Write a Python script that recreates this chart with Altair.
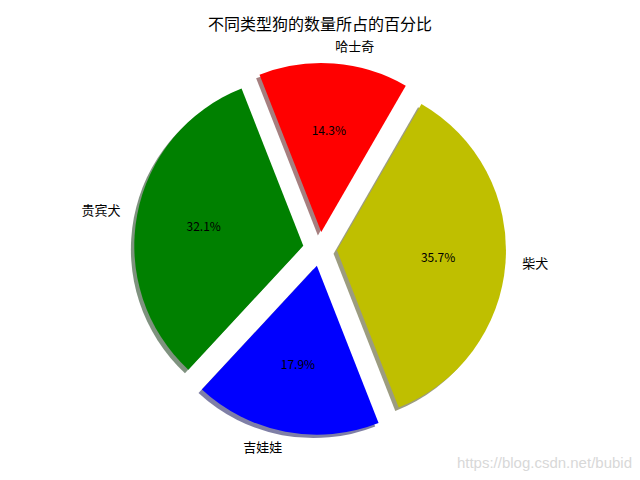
import altair as alt
import pandas as pd

# ---- data ----
dogs = ["哈士奇", "贵宾犬", "吉娃娃", "柴犬"]
counts = [4, 9, 5, 10]
colors = ["#ff0000", "#008000", "#0000ff", "#bfbf00"]
shadow_colors = ["#4d0000", "#002600", "#00004d", "#393900"]
title_text = "不同类型狗的数量所占的百分比"
watermark = ["https://blog.csdn.net/bubid"]

# ---- layout (pixels in chart coords) ----
START = 60      # matplotlib-style start angle (deg, counter-clockwise from +x)
CX, CY = 312, 211
R = 169
E = 17          # explode offset
SH = 3.4        # shadow offset
FONT = "Noto Sans CJK SC"

df = pd.DataFrame({"dog": dogs, "count": counts, "idx": list(range(len(dogs)))})

base = (
    alt.Chart(df)
    .transform_joinaggregate(total="sum(count)")
    .transform_window(cum="sum(count)", sort=[alt.SortField("idx")], frame=[None, 0])
    .transform_calculate(
        a1=f"{START} + 360*(datum.cum - datum.count)/datum.total",
        a2=f"{START} + 360*datum.cum/datum.total",
    )
    .transform_calculate(
        t1="(90 - datum.a2)*PI/180",
        t2="(90 - datum.a1)*PI/180",
        mid="(datum.a1 + datum.a2)/2*PI/180",
    )
    .transform_calculate(
        cx=f"{CX} + {E}*cos(datum.mid)",
        cy=f"{CY} - {E}*sin(datum.mid)",
        pct="format(datum.count/datum.total*100, '.1f') + '%'",
        side="cos(datum.mid) >= 0 ? 'right' : 'left'",
    )
    .transform_calculate(
        sx=f"datum.cx - {SH}",
        sy=f"datum.cy + {SH}",
        lx=f"datum.cx + {1.1 * R}*cos(datum.mid)",
        ly=f"datum.cy - {1.1 * R}*sin(datum.mid)",
        px=f"datum.cx + {0.6 * R}*cos(datum.mid)",
        py=f"datum.cy - {0.6 * R}*sin(datum.mid)",
    )
)

shadow = base.mark_arc(radius=R, opacity=0.5).encode(
    x=alt.X("sx:Q", scale=None, axis=None),
    y=alt.Y("sy:Q", scale=None, axis=None),
    theta=alt.Theta("t1:Q", scale=None),
    theta2="t2:Q",
    color=alt.Color("dog:N", scale=alt.Scale(domain=dogs, range=shadow_colors), legend=None),
)

wedges = base.mark_arc(radius=R).encode(
    x=alt.X("cx:Q", scale=None, axis=None),
    y=alt.Y("cy:Q", scale=None, axis=None),
    theta=alt.Theta("t1:Q", scale=None),
    theta2="t2:Q",
    color=alt.Color("dog:N", scale=alt.Scale(domain=dogs, range=colors), legend=None),
)

labels_right = base.transform_filter("datum.side == 'right'").mark_text(
    align="left", baseline="middle", font=FONT, fontSize=13, color="black"
).encode(
    x=alt.X("lx:Q", scale=None, axis=None),
    y=alt.Y("ly:Q", scale=None, axis=None),
    text="dog:N",
)

labels_left = base.transform_filter("datum.side == 'left'").mark_text(
    align="right", baseline="middle", font=FONT, fontSize=13, color="black"
).encode(
    x=alt.X("lx:Q", scale=None, axis=None),
    y=alt.Y("ly:Q", scale=None, axis=None),
    text="dog:N",
)

pcts = base.mark_text(
    align="center", baseline="middle", font=FONT, fontSize=12, color="black"
).encode(
    x=alt.X("px:Q", scale=None, axis=None),
    y=alt.Y("py:Q", scale=None, axis=None),
    text="pct:N",
)

wm = alt.Chart(pd.DataFrame({"t": watermark})).mark_text(
    align="right", baseline="middle", font="Liberation Sans", fontSize=15, color="#d8d8d8"
).encode(
    x=alt.value(624),
    y=alt.value(425),
    text="t:N",
)

chart = (
    alt.layer(shadow, wedges, labels_right, labels_left, pcts, wm)
    .resolve_scale(color="independent")
    .properties(
        width=624,
        height=434,
        title=alt.Title(title_text, font=FONT, fontSize=16, fontWeight="normal",
                        anchor="middle", offset=5, color="black"),
        autosize=alt.AutoSizeParams(type="none"),
        padding={"left": 0, "top": 30, "right": 0, "bottom": 0},
    )
    .configure_view(stroke=None)
)

chart.save("out.html", embed_options={"renderer": "svg", "actions": False})
